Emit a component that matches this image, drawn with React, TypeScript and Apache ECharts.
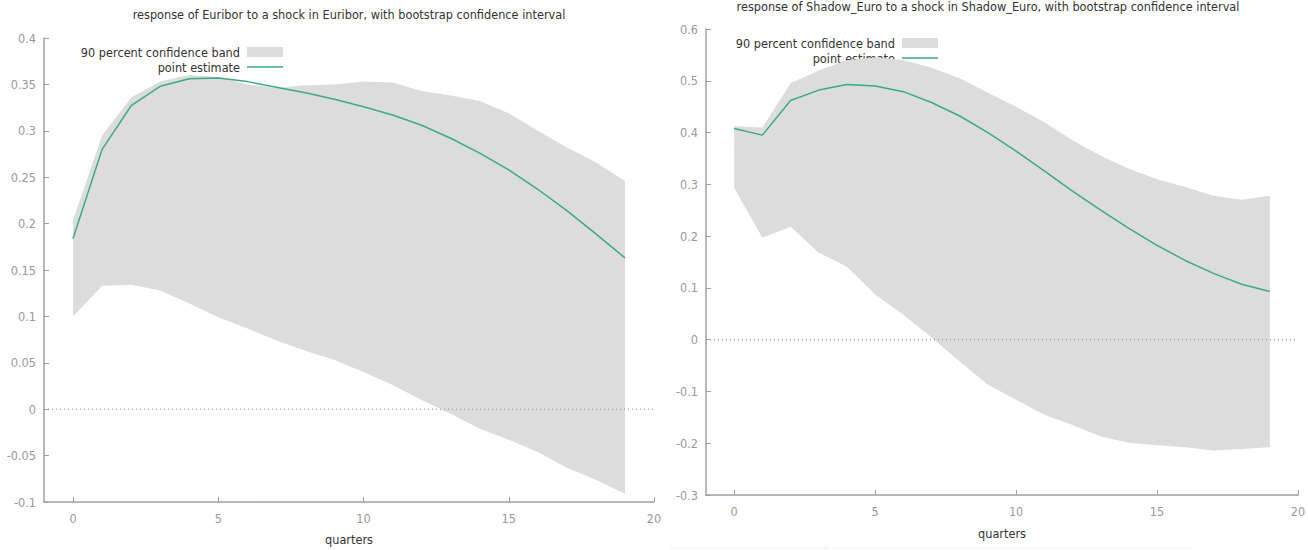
import React, { useEffect, useRef } from "react";
import * as echarts from "echarts";

const quarters = [0, 1, 2, 3, 4, 5, 6, 7, 8, 9, 10, 11, 12, 13, 14, 15, 16, 17, 18, 19];

const euriborEstimate = [0.184, 0.28, 0.327, 0.348, 0.356, 0.357, 0.353, 0.347, 0.341, 0.334, 0.326, 0.317, 0.306, 0.292, 0.276, 0.258, 0.237, 0.214, 0.189, 0.163];
const euriborUpper = [0.204, 0.295, 0.336, 0.353, 0.36, 0.358, 0.35, 0.346, 0.349, 0.35, 0.353, 0.352, 0.343, 0.338, 0.332, 0.319, 0.3, 0.282, 0.266, 0.246];
const euriborLower = [0.1, 0.133, 0.134, 0.128, 0.114, 0.099, 0.087, 0.074, 0.063, 0.053, 0.04, 0.026, 0.01, -0.005, -0.021, -0.033, -0.046, -0.063, -0.076, -0.091];

const shadowEstimate = [0.408, 0.395, 0.462, 0.482, 0.493, 0.49, 0.479, 0.458, 0.432, 0.4, 0.364, 0.326, 0.287, 0.25, 0.215, 0.182, 0.153, 0.128, 0.107, 0.093];
const shadowUpper = [0.412, 0.41, 0.495, 0.52, 0.54, 0.545, 0.54, 0.525, 0.505, 0.477, 0.45, 0.42, 0.385, 0.355, 0.33, 0.31, 0.295, 0.278, 0.27, 0.278];
const shadowLower = [0.293, 0.197, 0.218, 0.168, 0.141, 0.087, 0.048, 0.004, -0.042, -0.087, -0.116, -0.145, -0.165, -0.187, -0.199, -0.204, -0.208, -0.214, -0.211, -0.208];

const xTicks = [0, 5, 10, 15, 20];
const titles = [
  "response of Euribor to a shock in Euribor, with bootstrap confidence interval",
  "response of Shadow_Euro to a shock in Shadow_Euro, with bootstrap confidence interval",
];
const legendNames = ["90 percent confidence band", "point estimate"];

const FONT = "DejaVu Sans Condensed, DejaVu Sans, sans-serif";
const FS = 12.6;
const BAND = "#dcdcdc";
const LINE = "#3caa86";
const AXIS = "#a0a0a0";

function fmt(v: number) {
  return String(Number(v.toFixed(2)));
}

function bandSeries(idx: number, lower: number[], upper: number[]) {
  return {
    type: "custom",
    xAxisIndex: idx,
    yAxisIndex: idx,
    silent: true,
    z: 1,
    data: quarters.map((q, i) => [q, lower[i], upper[i]]),
    encode: { x: 0, y: [1, 2] },
    renderItem: (params: any, api: any) => {
      if (params.dataIndex !== 0) return null;
      const pts: number[][] = [];
      for (let i = 0; i < quarters.length; i++) pts.push(api.coord([quarters[i], upper[i]]));
      for (let i = quarters.length - 1; i >= 0; i--) pts.push(api.coord([quarters[i], lower[i]]));
      return { type: "polygon", shape: { points: pts }, style: { fill: BAND } };
    },
  };
}

function lineSeries(idx: number, vals: number[]) {
  return {
    type: "line",
    xAxisIndex: idx,
    yAxisIndex: idx,
    data: quarters.map((q, i) => [q, vals[i]]),
    symbol: "none",
    z: 3,
    lineStyle: { color: LINE, width: 1.5 },
  };
}

function zeroSeries(idx: number) {
  return {
    type: "line",
    xAxisIndex: idx,
    yAxisIndex: idx,
    data: [[-1, 0], [20, 0]],
    symbol: "none",
    z: 2,
    lineStyle: { color: "#888", width: 1, type: [1, 3] },
  };
}

function xAxis(idx: number, gap: number) {
  return {
    type: "value",
    gridIndex: idx,
    min: -1,
    max: 20,
    name: "quarters",
    nameLocation: "middle",
    nameGap: gap,
    nameTextStyle: { color: "#333", fontFamily: FONT, fontSize: FS },
    axisLine: { show: true, onZero: false, lineStyle: { color: AXIS, width: 1.5 } },
    axisTick: { show: true, inside: true, length: 5, customValues: xTicks, lineStyle: { color: AXIS } },
    axisLabel: { customValues: xTicks, color: "#999", fontFamily: FONT, fontSize: FS, margin: 10 },
    splitLine: { show: false },
  };
}

function yAxis(idx: number, min: number, max: number, interval: number) {
  return {
    type: "value",
    gridIndex: idx,
    min,
    max,
    interval,
    axisLine: { show: true, onZero: false, lineStyle: { color: AXIS, width: 1.5 } },
    axisTick: { show: true, inside: true, length: 5, lineStyle: { color: AXIS } },
    axisLabel: { color: "#999", fontFamily: FONT, fontSize: FS, margin: 8, formatter: fmt },
    splitLine: { show: false },
  };
}

function legendGraphics(textRight: number, y1: number, y2: number) {
  return [
    { type: "text", x: textRight, y: y1, style: { text: legendNames[0], fill: "#333", font: `${FS}px ${FONT}`, align: "right", verticalAlign: "middle" } },
    { type: "rect", shape: { x: textRight + 7, y: y1 - 5, width: 36, height: 10 }, style: { fill: BAND } },
    { type: "text", x: textRight, y: y2, style: { text: legendNames[1], fill: "#333", font: `${FS}px ${FONT}`, align: "right", verticalAlign: "middle" } },
    { type: "line", shape: { x1: textRight + 7, y1: y2, x2: textRight + 43, y2: y2 }, style: { stroke: LINE, lineWidth: 1.5 } },
  ];
}

export default function App() {
  const ref = useRef<HTMLDivElement>(null);
  useEffect(() => {
    if (!ref.current) return;
    const chart = echarts.init(ref.current, undefined, { renderer: "svg" });
    chart.setOption({
      animation: false,
      backgroundColor: "#fff",
      title: [
        { text: titles[0], left: 349, top: 8, padding: 0, textAlign: "center", textStyle: { color: "#333", fontFamily: FONT, fontSize: FS, fontWeight: "normal" } },
        { text: titles[1], left: 988, top: 0, padding: 0, textAlign: "center", textStyle: { color: "#333", fontFamily: FONT, fontSize: FS, fontWeight: "normal" } },
      ],
      grid: [
        { left: 44, top: 38, width: 610, height: 464, outerBoundsMode: "none", containLabel: false },
        { left: 706, top: 29, width: 592, height: 466, outerBoundsMode: "none", containLabel: false },
      ],
      xAxis: [xAxis(0, 31), xAxis(1, 32)],
      yAxis: [yAxis(0, -0.1, 0.4, 0.05), yAxis(1, -0.3, 0.6, 0.1)],
      series: [
        bandSeries(0, euriborLower, euriborUpper),
        zeroSeries(0),
        lineSeries(0, euriborEstimate),
        bandSeries(1, shadowLower, shadowUpper),
        zeroSeries(1),
        lineSeries(1, shadowEstimate),
      ],
      graphic: [
        ...legendGraphics(240, 52, 67),
        ...legendGraphics(895, 43, 58),
        { type: "line", shape: { x1: 670, y1: 548, x2: 830, y2: 548 }, style: { stroke: "#eaeaea", lineWidth: 1 } },
        { type: "line", shape: { x1: 832, y1: 548, x2: 1192, y2: 548 }, style: { stroke: "#eaeaea", lineWidth: 1 } },
      ],
    });
    return () => chart.dispose();
  }, []);
  return <div ref={ref} style={{ position: "fixed", left: 0, top: 0, width: 1308, height: 550 }} />;
}
